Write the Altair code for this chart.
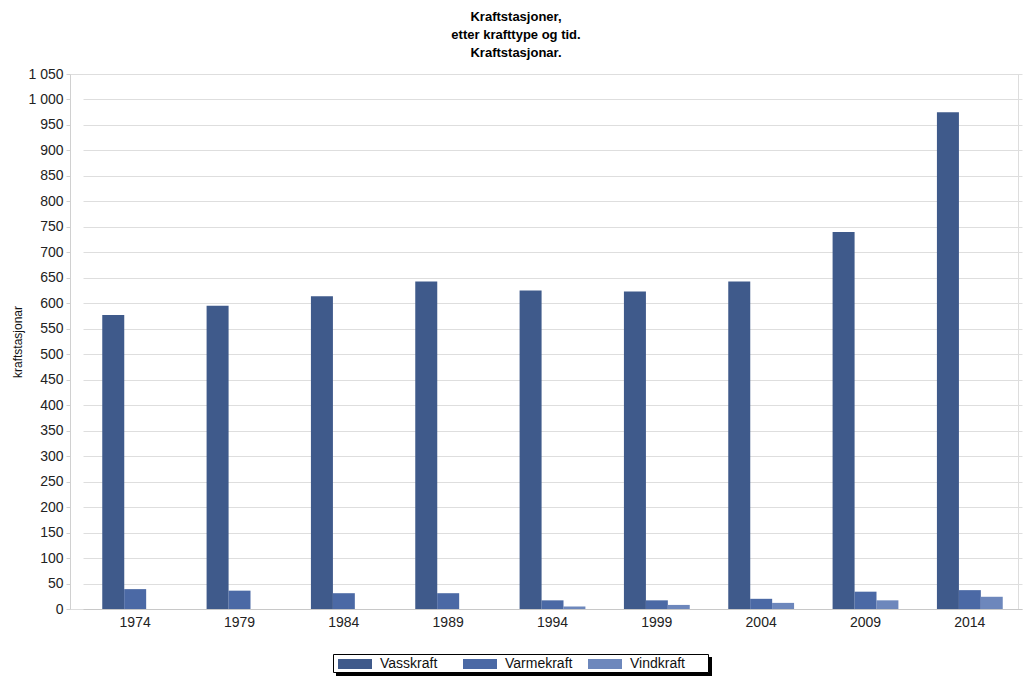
import altair as alt
import pandas as pd

years = ["1974", "1979", "1984", "1989", "1994", "1999", "2004", "2009", "2014"]
series = ["Vasskraft", "Varmekraft", "Vindkraft"]
vasskraft = [577, 595, 614, 643, 625, 623, 643, 740, 975]
varmekraft = [39, 36, 31, 31, 17, 17, 20, 34, 37]
vindkraft = [None, None, None, None, 5, 8, 12, 17, 24]
colors = ["#3F5A8B", "#4B69A5", "#6D87BC"]

rows = []
for name, vals in zip(series, [vasskraft, varmekraft, vindkraft]):
    for y, v in zip(years, vals):
        if v is not None:
            rows.append({"år": y, "krafttype": name, "kraftstasjonar": v})
df = pd.DataFrame(rows)

font = "Liberation Sans"

bars = alt.Chart(df).mark_bar(size=22).encode(
    x=alt.X(
        "år:N",
        sort=years,
        title=None,
        scale=alt.Scale(paddingInner=0.37, paddingOuter=0.185, range=[13, 952]),
        axis=alt.Axis(
            labelAngle=0, labelFont=font, labelFontSize=14, labelColor="#222222",
            domainColor="#c8c8c8", ticks=False, labelPadding=6, grid=False,
        ),
    ),
    xOffset=alt.XOffset("krafttype:N", sort=series, scale=alt.Scale(paddingInner=0, paddingOuter=0)),
    y=alt.Y(
        "kraftstasjonar:Q",
        title="kraftstasjonar",
        scale=alt.Scale(domain=[0, 1050], nice=False),
        axis=alt.Axis(
            values=list(range(0, 1051, 50)),
            labelExpr="replace(format(datum.value, ',d'), ',', ' ')",
            labelFont=font, labelFontSize=14, labelColor="#222222",
            titleFont=font, titleFontSize=12, titleFontWeight="normal", titleColor="#111111",
            titlePadding=3,
            gridColor="#dedede", domainColor="#d0d0d0", ticks=True, tickSize=4,
            tickColor="#d0d0d0", labelPadding=3,
        ),
    ),
    color=alt.Color(
        "krafttype:N",
        sort=series,
        scale=alt.Scale(domain=series, range=colors),
        legend=alt.Legend(
            title=None, orient="none", legendX=263, legendY=580, direction="horizontal",
            columns=3, symbolType="M-3.4,-1H3.4V1H-3.4Z", symbolSize=100, symbolStrokeWidth=0,
            symbolOffset=12,
            labelFont=font, labelFontSize=14, labelColor="#111111", labelOffset=18,
            columnPadding=13, gridAlign="all",
            padding=3,
        ),
    ),
)

# legend frame with a drop shadow
one = pd.DataFrame({"a": [0]})
shadow = alt.Chart(one).mark_rect(color="#000000").encode(
    x=alt.value(266), x2=alt.value(642), y=alt.value(583), y2=alt.value(602)
)
frame = alt.Chart(one).mark_rect(fill="#ffffff", stroke="#000000", strokeWidth=1).encode(
    x=alt.value(263.5), x2=alt.value(638.5), y=alt.value(580.5), y2=alt.value(598.5)
)

chart = alt.layer(shadow, frame, bars).properties(
    width=948,
    height=535,
    autosize=alt.AutoSizeParams(type="none"),
    padding={"left": 70, "top": 74, "right": 8, "bottom": 68},
    title=alt.TitleParams(
        text=["Kraftstasjoner,", "etter krafttype og tid.", "Kraftstasjonar."],
        font=font, fontSize=13, fontWeight="bold", color="#000000",
        anchor="middle", dx=-28, offset=7, lineHeight=18,
    ),
).configure_view(stroke=None).configure(background="#ffffff")

chart.save("out.html", embed_options={"renderer": "svg", "actions": False})
